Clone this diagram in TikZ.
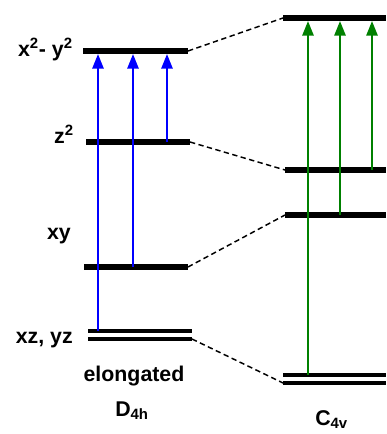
\documentclass[tikz,border=0pt]{standalone}
\usepackage{fontspec}
\setmainfont{Liberation Sans}
\usepackage{tikz}
\usetikzlibrary{arrows.meta}

\begin{document}
\begin{tikzpicture}[x=0.75pt,y=-0.75pt,
  level/.style={line width=3.8pt},
  corr/.style={line width=1.1pt,dash pattern=on 4pt off 2.6pt},
  ex/.style={line width=1.5pt,-{Triangle[length=11pt,width=8.5pt]}},
  lab/.style={font=\fontsize{16}{19}\selectfont\bfseries,inner sep=0pt}]
\useasboundingbox (0,0) rectangle (386,434);
% left levels (elongated D4h)
\coordinate (xya) at (83,51);   \coordinate (xyb) at (188,51);
\coordinate (za) at (86,142);   \coordinate (zb) at (190,142);
\coordinate (pa) at (84,267);   \coordinate (pb) at (188,267);
\coordinate (ea) at (88,331);   \coordinate (eb) at (192,331);
\coordinate (fa) at (88,339);   \coordinate (fb) at (192,339);
% right levels (C4v)
\coordinate (r1) at (283,18);   \coordinate (r1e) at (386,18);
\coordinate (r2) at (285,170);  \coordinate (r2e) at (386,170);
\coordinate (r3) at (285,215);  \coordinate (r3e) at (386,215);
\coordinate (r4) at (283,375);  \coordinate (r4e) at (386,375);
\coordinate (r5) at (283,383);  \coordinate (r5e) at (386,383);
\foreach \a/\b in {xya/xyb,za/zb,pa/pb,r1/r1e,r2/r2e,r3/r3e}
  \draw[level] (\a)--(\b);
\foreach \a/\b in {ea/eb,fa/fb,r4/r4e,r5/r5e}
  \draw[line width=3.2pt] (\a)--(\b);
\draw[corr] (xyb)--(r1);
\draw[corr] (zb)--(r2);
\draw[corr] (pb)--(r3);
\draw[corr] (fb)--(r5);
% transitions
\coordinate (b1) at (98,0); \coordinate (b2) at (133,0); \coordinate (b3) at (167,0);
\draw[ex,blue] (ea -| b1)--([yshift=-2.3pt]xya -| b1);
\draw[ex,blue] (pa -| b2)--([yshift=-2.3pt]xya -| b2);
\draw[ex,blue] (za -| b3)--([yshift=-2.3pt]xya -| b3);
\coordinate (g1) at (308,0); \coordinate (g2) at (340,0); \coordinate (g3) at (372,0);
\draw[ex,green!50!black] (r4 -| g1)--([yshift=-2.3pt]r1 -| g1);
\draw[ex,green!50!black] (r3 -| g2)--([yshift=-2.3pt]r1 -| g2);
\draw[ex,green!50!black] (r2 -| g3)--([yshift=-2.3pt]r1 -| g3);
% labels
\node[lab,anchor=base east] (lxy) at (73,57) {x\textsuperscript{2}- y\textsuperscript{2}};
\node[lab,anchor=base east] (lz) at (74,144) {z\textsuperscript{2}};
\node[lab,anchor=base east] (lp) at (71,239) {xy};
\node[lab,anchor=base east] (le) at (73,343) {xz, yz};
\node[lab,anchor=base] (lel) at (134,381) {elongated};
\node[lab,anchor=base west] (ld) at (115,416) {D\textsubscript{4h}};
\node[lab,anchor=base west] (lc) at (315,425) {C\textsubscript{4v}};
\end{tikzpicture}
\end{document}
